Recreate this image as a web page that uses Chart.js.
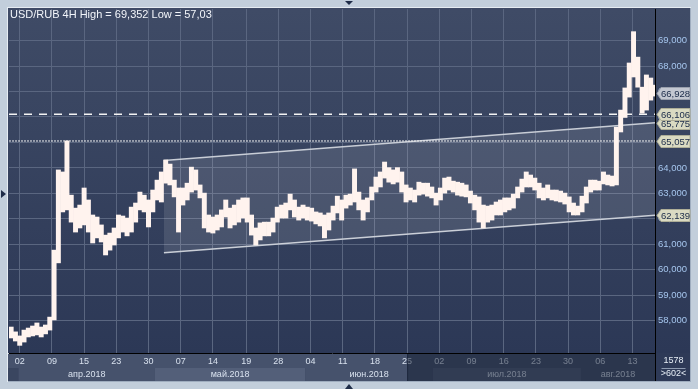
<!DOCTYPE html>
<html><head><meta charset="utf-8">
<script src="https://cdn.jsdelivr.net/npm/chart.js@4.4.0/dist/chart.umd.min.js"></script>
<style>html,body{margin:0;padding:0;background:#c2cedb;overflow:hidden}</style>
</head><body><canvas id="c" width="698" height="389"></canvas>
<script>
// ---- data (4H bars grouped by 4; x in 4H-bar index units) ----
const highs = [57.75,57.56,57.40,57.63,57.71,57.79,57.91,57.75,57.83,58.14,
60.77,63.92,63.84,65.06,62.93,62.42,62.54,63.21,62.74,62.15,
62.07,61.76,61.36,61.44,61.64,62.15,62.11,62.03,62.46,62.62,
63.05,62.93,62.74,63.13,63.52,63.84,64.31,64.15,63.52,63.21,
63.21,63.40,64.03,63.92,63.33,63.01,62.15,62.07,62.15,62.35,
62.74,62.42,62.54,62.74,62.82,62.82,62.15,61.64,61.84,61.87,
61.87,62.03,62.46,62.54,62.62,62.97,62.74,62.46,62.54,62.46,
62.42,62.27,62.23,62.15,62.23,62.50,62.89,62.74,62.93,62.97,
63.96,63.05,62.74,62.82,63.25,63.64,63.84,64.23,64.01,63.92,
64.01,63.84,63.33,63.21,63.13,63.44,63.40,63.40,63.25,63.01,
63.21,63.60,63.64,63.48,63.44,63.40,63.33,63.09,62.93,62.86,
62.54,62.50,62.54,62.66,62.74,62.82,62.82,62.97,63.25,63.56,
63.84,63.72,63.60,63.40,63.21,63.33,63.13,63.13,63.09,63.01,
62.86,62.62,62.50,62.89,63.25,63.52,63.52,63.48,63.84,63.72,
63.68,65.60,66.27,67.14,68.12,69.35,68.35,67.17,67.65,67.53,
67.25];
const lows = [57.32,57.20,57.03,57.16,57.36,57.40,57.44,57.36,57.48,57.63,
58.03,60.27,62.27,62.35,61.87,61.48,61.64,61.76,61.48,61.05,
61.25,61.09,60.58,60.77,60.97,61.25,61.48,61.33,61.48,61.87,
62.35,62.27,61.68,62.27,62.74,62.66,63.40,63.33,62.86,61.48,
62.54,62.74,63.05,63.13,62.82,61.64,61.48,61.44,61.56,61.68,
62.07,61.64,61.76,61.87,62.03,61.87,61.36,60.97,61.17,61.33,
61.33,61.48,61.87,62.03,62.03,62.35,62.07,61.95,62.03,61.95,
61.91,61.80,61.72,61.25,61.56,61.95,62.23,61.95,62.42,62.54,
62.66,62.35,61.95,62.27,62.74,63.05,63.25,63.60,63.44,63.37,
63.44,63.05,62.66,62.74,62.66,62.93,62.97,62.89,62.82,62.54,
62.74,63.01,63.13,63.05,62.93,62.89,62.86,62.62,62.35,61.87,
61.64,61.87,61.95,62.15,62.15,62.27,62.35,62.42,62.82,63.05,
63.25,63.25,63.13,62.82,62.74,62.82,62.74,62.70,62.66,62.58,
62.27,62.15,62.15,62.27,62.62,63.05,63.13,63.13,63.37,63.33,
63.29,63.33,65.41,65.98,66.78,67.57,67.17,66.15,66.27,66.66,
66.82];
const barsPerSample = 4;
const totalBars = 602;
const xTickPos = [10,40,70,100,130,160,190,221,251,281,311,341,371,401,431,461,491,521,551,581];
const xLabels = ["02","09","15","23","30","07","14","19","28","04","11","18","25","02","09","16","23","30","06","13"];
const monthStarts = [9,136,276,395,533];
const monthLabels = ["апр.2018","май.2018","июн.2018","июл.2018","авг.2018"];
const yTicks = [58,59,60,61,62,63,64,65,66,67,68,69];
const yMin = 56.73, yMax = 70.24;
const channelX = [144.4, 602];
const channelUpper = [64.29, 65.775];
const channelLower = [60.67, 62.139];
const dashedLevel = 66.106;
const dottedLevel = 65.057;
const tagValues = [62.139, 65.057, 65.775, 66.106, 66.928];
const lastClose = 66.928;
const titleText = "USD/RUB 4H High = 69,352 Low = 57,03";
const cornerTexts = ["1578", ">602<"];
const highlightFrom = 371;

const fmt = v => v.toFixed(3).replace('.', ',');
const FONT = "'Liberation Sans', Arial, sans-serif";

const barData = highs.map((h, j) => ({x: j * barsPerSample + barsPerSample / 2, y: [lows[j], h]}));

const decor = {
  id: 'decor',
  beforeDraw(chart) {
    const {ctx, chartArea: a, scales: {x, y}} = chart;
    ctx.save();
    ctx.fillStyle = '#c2cedb';
    ctx.fillRect(0, 0, chart.width, chart.height);
    ctx.fillStyle = '#e6ecf2';
    ctx.fillRect(7, 7, y.right - 7 + 1, 1);
    ctx.fillRect(7, 7, 1, x.bottom - 7 + 1);
    ctx.fillStyle = '#9fadbf';
    ctx.fillRect(8, x.bottom, y.right - 8 + 1, 1);
    ctx.fillRect(y.right, 8, 1, x.bottom - 8);
    const g = ctx.createLinearGradient(0, a.top, 0, a.bottom);
    g.addColorStop(0, '#3f4b66');
    g.addColorStop(1, '#2c3856');
    ctx.fillStyle = g;
    ctx.fillRect(a.left - 1, a.top - 1, y.right - a.left + 1, a.bottom - a.top + 1);
    const r1 = a.bottom + 1, rMid = a.bottom + 15, r3 = x.bottom;
    ctx.fillStyle = '#46526c';
    ctx.fillRect(a.left - 1, r1, a.right - a.left + 1, rMid - r1);
    const monthCols = ['#46526c', '#535f79', '#46526c', '#535f79', '#46526c'];
    ctx.fillStyle = '#3a4660';
    ctx.fillRect(a.left - 1, rMid, a.right - a.left + 1, r3 - rMid);
    for (let i = 0; i < monthStarts.length; i++) {
      const x0 = x.getPixelForValue(monthStarts[i]);
      const x1 = i + 1 < monthStarts.length ? x.getPixelForValue(monthStarts[i + 1]) : a.right;
      ctx.fillStyle = monthCols[i];
      ctx.fillRect(x0, rMid, x1 - x0, r3 - rMid);
    }
    ctx.restore();
  },
  afterDraw(chart) {
    const {ctx, chartArea: a, scales: {x, y}} = chart;
    ctx.save();
    const rMid = a.bottom + 15, r3 = x.bottom;
    ctx.font = '9px ' + FONT;
    ctx.fillStyle = '#d8e1ee';
    ctx.textAlign = 'center';
    ctx.textBaseline = 'middle';
    for (let i = 0; i < monthStarts.length; i++) {
      const x0 = x.getPixelForValue(monthStarts[i]);
      const x1 = i + 1 < monthStarts.length ? x.getPixelForValue(monthStarts[i + 1]) : a.right;
      ctx.fillText(monthLabels[i], (x0 + x1) / 2, (rMid + r3) / 2 + 0.5);
    }
    const hx = x.getPixelForValue(highlightFrom);
    ctx.fillStyle = 'rgba(16,26,46,0.5)';
    ctx.fillRect(hx, a.bottom + 1, a.right - hx, r3 - a.bottom - 1);
    ctx.fillStyle = 'rgba(20,30,50,0.6)';
    ctx.fillRect(hx, a.bottom + 1, 1, r3 - a.bottom - 1);
    ctx.fillStyle = '#000';
    ctx.fillRect(a.right, a.top, 1, r3 - a.top);
    ctx.fillStyle = '#2e3a57';
    ctx.fillRect(a.right + 1, a.bottom, y.right - a.right - 1, r3 - a.bottom);
    ctx.fillStyle = '#e6edf5';
    ctx.font = '9px ' + FONT;
    ctx.textAlign = 'center';
    const cx = (a.right + y.right) / 2 + 1;
    ctx.fillText(cornerTexts[0], cx, a.bottom + 8);
    ctx.fillStyle = '#8e9bb0';
    ctx.fillRect(cx - 12, a.bottom + 15, 24, 1);
    ctx.fillStyle = '#e6edf5';
    ctx.fillText(cornerTexts[1], cx, a.bottom + 21);
    ctx.font = '9.5px ' + FONT;
    ctx.textAlign = 'left';
    tagValues.forEach(v => {
      const py = Math.round(y.getPixelForValue(v)) + 0.5;
      const x0 = a.right + 2, x1 = y.right;
      ctx.beginPath();
      ctx.moveTo(x0, py);
      ctx.lineTo(x0 + 4, py - 6);
      ctx.lineTo(x1, py - 6);
      ctx.lineTo(x1, py + 6);
      ctx.lineTo(x0 + 4, py + 6);
      ctx.closePath();
      ctx.fillStyle = v === lastClose ? '#c3c7d1' : '#dadac2';
      ctx.fill();
      ctx.strokeStyle = v === lastClose ? '#9aa0ad' : '#aeae98';
      ctx.lineWidth = 1;
      ctx.stroke();
      ctx.fillStyle = '#1a2a48';
      ctx.fillText(fmt(v), x0 + 4, py + 0.5);
    });
    ctx.font = '11px ' + FONT;
    ctx.fillStyle = '#f2f5fa';
    ctx.textAlign = 'left';
    ctx.textBaseline = 'middle';
    ctx.fillText(titleText, 10, 15);
    ctx.fillStyle = '#1e2c48';
    ctx.beginPath(); ctx.moveTo(345, 1); ctx.lineTo(353, 1); ctx.lineTo(349, 5); ctx.closePath(); ctx.fill();
    ctx.beginPath(); ctx.moveTo(345, 389); ctx.lineTo(353, 389); ctx.lineTo(349, 384); ctx.closePath(); ctx.fill();
    ctx.beginPath(); ctx.moveTo(1, 190); ctx.lineTo(1, 198); ctx.lineTo(6, 194); ctx.closePath(); ctx.fill();
    ctx.restore();
  }
};

new Chart(document.getElementById('c'), {
  type: 'bar',
  data: {
    datasets: [
      {type: 'bar', data: barData, backgroundColor: '#fff3ee', borderWidth: 0,
       barPercentage: 1, categoryPercentage: 1, order: 0, grouped: false},
      {type: 'line', data: [{x: 0, y: dashedLevel}, {x: totalBars, y: dashedLevel}],
       borderColor: '#f4f4f4', borderWidth: 1.5, borderDash: [8, 7], pointRadius: 0, order: 1},
      {type: 'line', data: [{x: 0, y: dottedLevel}, {x: totalBars, y: dottedLevel}],
       borderColor: '#f0f0f0', borderWidth: 1, borderDash: [2, 1], pointRadius: 0, order: 1},
      {type: 'line', data: [{x: channelX[0], y: channelUpper[0]}, {x: channelX[1], y: channelUpper[1]}],
       borderColor: '#c8cdd6', borderWidth: 1.6, pointRadius: 0, fill: '+1',
       backgroundColor: 'rgba(255,255,255,0.11)', order: 2},
      {type: 'line', data: [{x: channelX[0], y: channelLower[0]}, {x: channelX[1], y: channelLower[1]}],
       borderColor: '#c8cdd6', borderWidth: 1.6, pointRadius: 0, fill: false, order: 2}
    ]
  },
  options: {
    responsive: false,
    animation: false,
    layout: {padding: {left: 9, top: 9, right: 8, bottom: 8}},
    plugins: {legend: {display: false}, tooltip: {enabled: false}},
    scales: {
      x: {
        type: 'linear', min: 0, max: totalBars, offset: false,
        afterBuildTicks: s => { s.ticks = xTickPos.map(v => ({value: v})); },
        afterFit: s => { s.height = 28; },
        grid: {color: '#5a6680', borderDash: [2, 2], drawTicks: false, offset: false, lineWidth: 1},
        border: {color: '#000', width: 1, dash: []},
        ticks: {autoSkip: false, maxRotation: 0, padding: 3, color: '#d8e1ee',
                font: {family: FONT, size: 9},
                callback: (v, i) => xLabels[i]}
      },
      y: {
        type: 'linear', position: 'right', min: yMin, max: yMax,
        afterBuildTicks: s => { s.ticks = yTicks.map(v => ({value: v})); },
        afterFit: s => { s.width = 35; },
        grid: {color: '#5a6680', drawTicks: false, lineWidth: 1},
        border: {color: '#000', width: 1},
        ticks: {padding: 3, color: '#a6c6ee', font: {family: FONT, size: 9.5},
                callback: v => fmt(v)}
      }
    }
  },
  plugins: [decor]
});
</script></body></html>
